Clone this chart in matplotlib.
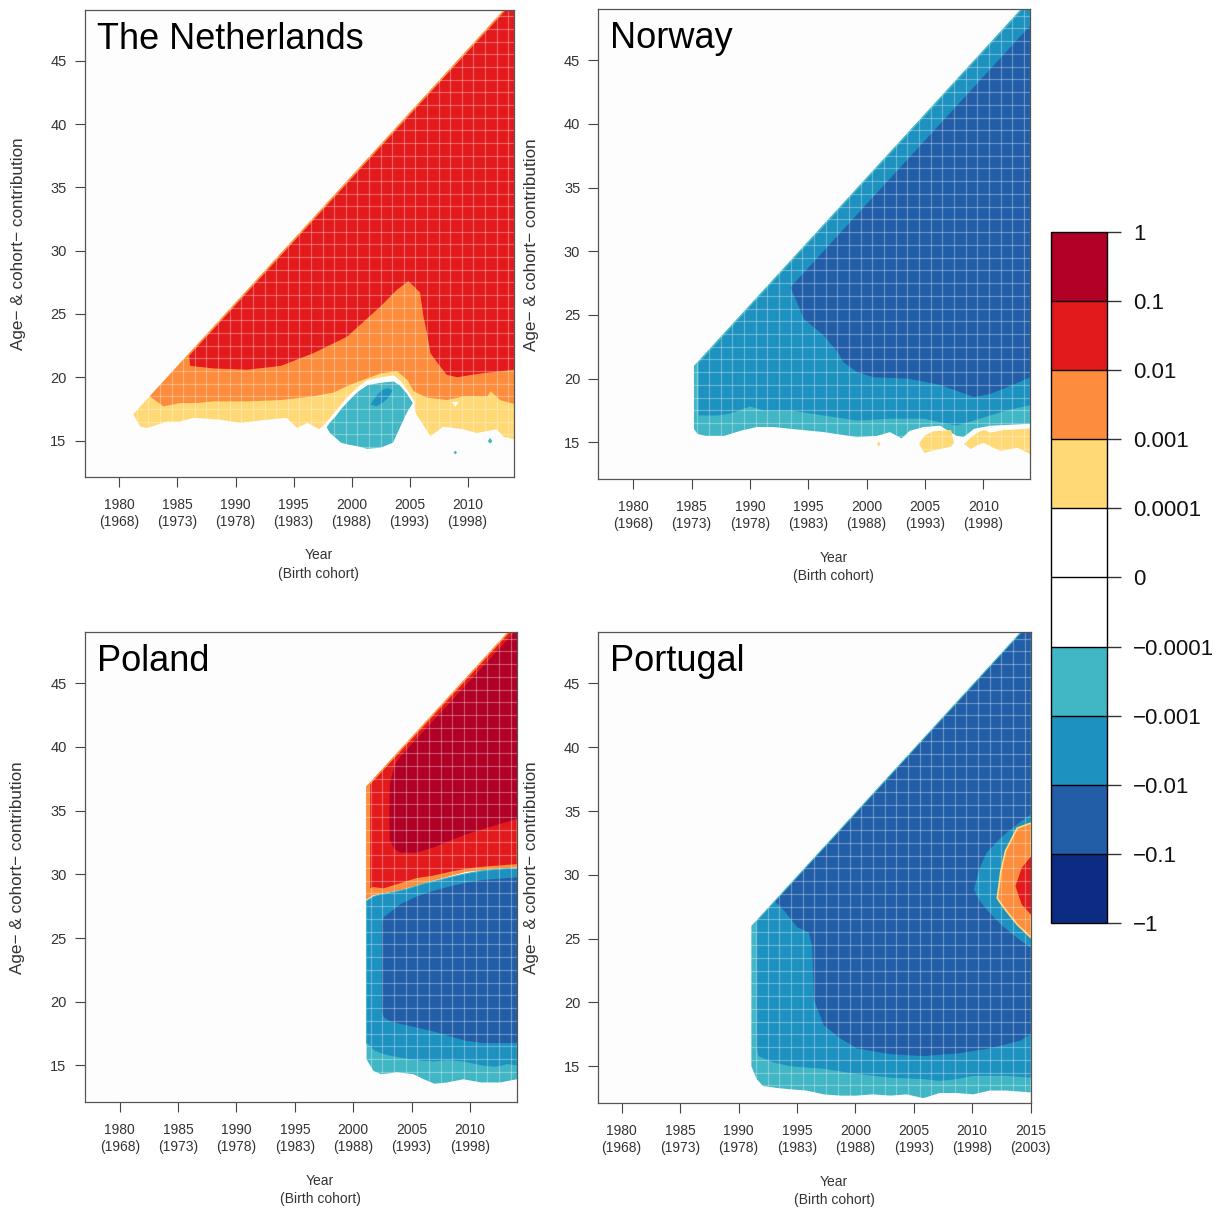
import numpy as np
import matplotlib as mpl
import matplotlib.pyplot as plt
from matplotlib.colors import ListedColormap, BoundaryNorm

plt.rcParams['font.family'] = ['Liberation Sans', 'DejaVu Sans']

# colour classes of the contribution (bottom -> top of the legend)
level_labels = ["\u22121", "\u22120.1", "\u22120.01", "\u22120.001", "\u22120.0001", "0",
                "0.0001", "0.001", "0.01", "0.1", "1"]
level_colors = ["#0C2C84", "#225EA8", "#1D91C0", "#41B6C4", "#FFFFFF",
                "#FFFFFF", "#FED976", "#FD8D3C", "#E31A1C", "#B10026"]
NEG4, NEG3, NEG2, NEG1, ZNEG, ZPOS, POS1, POS2, POS3, POS4 = level_colors

# ---------------- The Netherlands ----------------
nl_cohort = 1964.1          # upper-left edge: age = year - cohort
nl_red_cohort = 1964.3
nl_yellow_years = [1981.2, 1981.8, 1982.4, 1984.1, 1985.2, 1986.4, 1988.7, 1990.4, 1992.7,
                   1994.4, 1995.3, 1996.2, 1997.2, 1997.7, 1998.5, 1999.6, 2000.5, 2001.3,
                   2002.5, 2003.6, 2004.2, 2004.8, 2005.35, 2005.5, 2006.8, 2007.9, 2009.6,
                   2010.8, 2012.5, 2013.1, 2014.0]
nl_yellow_lo = [17.05, 16.1, 16.0, 16.5, 16.5, 16.8, 16.65, 16.4, 16.65,
                16.8, 16.0, 16.4, 15.9, 16.3, 17.2, 18.4, 19.2, 19.75,
                20.0, 20.15, 19.75, 19.0, 18.2, 17.2, 15.35, 16.1, 15.9,
                15.6, 15.9, 15.3, 15.1]
nl_orange_years = [1982.6, 1983.8, 1985.2, 1986.7, 1988.1, 1991.0, 1993.9, 1996.7, 1998.45,
                   1999.6, 2001.0, 2002.5, 2003.9, 2004.8, 2005.35, 2006.5, 2008.2, 2009.7,
                   2011.7, 2012.0, 2012.8, 2014.0]
nl_orange_lo = [18.5, 17.7, 17.97, 17.97, 18.1, 18.1, 18.2, 18.5, 18.8,
                19.3, 19.8, 20.3, 20.5, 19.8, 18.9, 18.4, 18.2, 18.5,
                18.5, 18.9, 18.2, 17.9]
nl_red_years = [1986.0, 1986.1, 1988.1, 1991.0, 1993.9, 1996.7, 1999.6, 2002.5, 2003.9,
                2004.9, 2005.9, 2006.2, 2006.5, 2006.8, 2007.6, 2008.2, 2009.1, 2011.1, 2014.0]
nl_red_lo = [21.7, 20.9, 20.7, 20.6, 20.9, 21.9, 23.2, 25.6, 26.9,
             27.6, 26.7, 24.8, 23.5, 21.9, 20.9, 20.2, 20.0, 20.3, 20.6]
nl_isl_years = [1997.7, 1998.0, 1998.5, 1999.0, 1999.6, 2000.2, 2000.5, 2001.3, 2002.5,
                2003.6, 2004.2, 2004.8, 2005.35]
nl_isl_hi = [16.1, 16.5, 17.0, 17.6, 18.2, 18.75, 19.0, 19.5, 19.7, 19.8, 19.45, 18.8, 18.0]
nl_isl_lo = [16.1, 15.6, 15.2, 14.8, 14.65, 14.55, 14.5, 14.3, 14.4, 14.8, 16.0, 17.2, 18.0]
nl_spot_years = [2001.6, 2002.1, 2002.6, 2003.1, 2003.5]
nl_spot_hi = [17.9, 18.6, 19.05, 19.2, 19.0]
nl_spot_lo = [17.9, 17.75, 18.0, 18.4, 19.0]
nl_dot1_years, nl_dot1_hi, nl_dot1_lo = [2008.75, 2008.9, 2009.05], [14.1, 14.25, 14.1], [14.1, 13.95, 14.1]
nl_dot2_years, nl_dot2_hi, nl_dot2_lo = [2011.7, 2011.9, 2012.1], [15.0, 15.25, 15.0], [15.0, 14.8, 15.0]
nl_hole_years, nl_hole_hi, nl_hole_lo = [2008.6, 2008.9, 2009.2], [18.1, 18.1, 18.1], [18.1, 17.7, 18.1]

# ---------------- Norway ----------------
no_cohort = 1964.2
no_mid_cohort = 1964.4
no_dark_cohort = 1966.3
no_teal_years = [1985.2, 1985.5, 1986.2, 1987.8, 1989.2, 1990.6, 1992.0, 1993.5, 1996.3,
                 1999.2, 2000.9, 2002.0, 2003.0, 2003.7, 2004.9, 2006.3, 2007.7, 2008.3,
                 2009.2, 2010.6, 2014.0]
no_teal_lo = [16.05, 15.65, 15.5, 15.5, 15.9, 16.2, 16.2, 16.05, 15.8,
              15.4, 15.5, 15.8, 15.3, 15.9, 16.2, 16.3, 15.5, 15.4,
              16.05, 16.3, 16.45]
no_mid_years = [1985.6, 1987.2, 1988.3, 1990.0, 1991.2, 1993.5, 1996.3, 1999.2, 2002.0,
                2004.9, 2007.7, 2009.2, 2010.6, 2012.0, 2014.0]
no_mid_lo = [17.1, 17.1, 17.25, 17.8, 17.5, 17.5, 17.1, 16.7, 16.85,
             16.85, 16.3, 16.7, 17.1, 17.5, 17.9]
no_dark_years = [1993.5, 1994.0, 1994.6, 1996.3, 1997.5, 1998.0, 1999.2, 2000.6, 2003.5,
                 2006.3, 2009.2, 2010.6, 2012.0, 2014.0]
no_dark_lo = [27.1, 26.05, 24.7, 23.4, 22.1, 21.3, 20.5, 20.1, 20.0,
              19.5, 18.55, 18.8, 19.3, 20.1]
no_ya_years = [2004.45, 2004.9, 2005.7, 2006.5, 2007.2, 2007.45]
no_ya_hi = [14.9, 15.55, 15.9, 15.95, 16.0, 15.0]
no_ya_lo = [14.9, 14.2, 14.4, 14.55, 14.7, 15.0]
no_yb_years = [2008.3, 2008.9, 2009.45, 2010.0, 2010.6, 2011.45, 2011.7, 2012.9, 2014.0]
no_yb_hi = [14.9, 15.4, 15.8, 16.0, 15.8, 15.95, 16.0, 16.05, 16.1]
no_yb_lo = [14.9, 14.5, 14.8, 15.0, 14.7, 14.35, 14.4, 14.6, 14.1]
no_yc_years, no_yc_hi, no_yc_lo = [2000.85, 2001.0, 2001.15], [14.9, 15.1, 14.9], [14.9, 14.7, 14.9]

# ---------------- Poland ----------------
pl_cohort = 1964.2
pl_red_cohort = 1964.4
pl_neg_years = [2001.1, 2001.7, 2002.3, 2002.9, 2003.7, 2004.6, 2005.1, 2006.0, 2006.9,
                2008.0, 2009.4, 2010.9, 2012.0, 2012.6, 2013.1, 2014.0]
pl_neg_top = [27.95, 28.3, 28.45, 28.55, 28.7, 28.9, 29.05, 29.3, 29.5,
              29.75, 30.05, 30.3, 30.4, 30.45, 30.5, 30.5]
pl_teal_lo = [15.5, 14.6, 14.35, 14.4, 14.5, 14.4, 14.35, 13.95, 13.6,
              13.7, 13.95, 13.7, 13.7, 13.7, 13.8, 13.95]
pl_mid_lo = [16.8, 16.2, 15.95, 15.8, 15.65, 15.5, 15.45, 15.35, 15.3,
             15.4, 15.3, 15.0, 14.9, 14.95, 15.1, 15.0]
pl_dark_years = [2002.4, 2002.6, 2003.1, 2004.0, 2005.4, 2006.85, 2008.3, 2009.7, 2011.1, 2014.0]
pl_dark_hi = [26.3, 26.7, 27.05, 27.7, 28.3, 28.75, 29.1, 29.4, 29.6, 29.8]
pl_dark_lo = [19.2, 18.8, 18.5, 18.3, 18.0, 17.7, 17.3, 16.95, 16.8, 16.8]
pl_orange_years = [2001.1, 2001.7, 2004.0, 2006.85, 2009.7, 2014.0]
pl_orange_lo = [28.0, 28.35, 28.75, 29.5, 30.2, 30.55]
pl_red_years = [2001.45, 2001.7, 2002.6, 2004.0, 2005.4, 2006.85, 2008.3, 2009.7, 2011.1,
                2012.55, 2014.0]
pl_red_lo = [28.9, 29.0, 28.9, 29.3, 29.7, 29.9, 30.2, 30.45, 30.6, 30.7, 30.8]
pl_dred_years = [2003.05, 2003.1, 2003.5, 2004.0, 2005.4, 2006.85, 2008.3, 2009.7, 2011.1,
                 2012.55, 2014.0]
pl_dred_hi = [35.0, 37.2, 38.6, 39.3, 40.7, 42.15, 43.6, 45.0, 46.4, 47.85, 49.3]
pl_dred_lo = [34.0, 32.7, 32.0, 31.75, 31.75, 32.15, 32.7, 33.2, 33.6, 34.0, 34.4]

# ---------------- Portugal ----------------
pt_cohort = 1965.1
pt_inner_cohort = 1965.25
pt_teal_years = [1991.1, 1991.55, 1992.1, 1993.3, 1994.4, 1995.8, 1997.3, 1998.7, 2000.1,
                 2001.5, 2003.0, 2004.4, 2005.8, 2007.2, 2008.7, 2010.1, 2011.5, 2012.9, 2015.0]
pt_teal_lo = [15.0, 14.0, 13.45, 13.3, 13.2, 13.1, 12.8, 12.7, 12.7,
              12.8, 12.7, 12.8, 12.5, 12.9, 12.9, 12.8, 13.1, 13.1, 12.95]
pt_mid_years = [1991.55, 1991.7, 1993.0, 1994.4, 1997.3, 2000.1, 2003.0, 2005.8, 2007.2,
                2008.7, 2010.1, 2012.9, 2015.0]
pt_mid_lo = [16.5, 15.8, 15.3, 15.0, 14.8, 14.4, 14.1, 14.0, 13.85, 14.0, 14.25, 14.25, 14.1]
pt_dark_years = [1993.15, 1994.0, 1995.0, 1996.0, 1996.3, 1996.45, 1997.3, 1998.7, 2000.1,
                 2003.0, 2005.8, 2008.7, 2011.5, 2014.1, 2015.0]
pt_dark_lo = [27.9, 27.1, 25.9, 25.5, 24.5, 20.2, 18.2, 17.2, 16.4,
              15.95, 15.8, 16.0, 16.4, 17.0, 17.5]
pt_ring_years = [2010.1, 2010.6, 2011.2, 2012.4, 2013.8, 2015.0]
pt_ring_hi = [28.9, 30.6, 31.8, 32.95, 34.0, 34.8]
pt_ring_lo = [28.9, 28.0, 27.3, 26.15, 25.1, 24.3]
pt_orange_years = [2012.1, 2012.4, 2012.8, 2013.8, 2015.0]
pt_orange_hi = [28.2, 30.3, 31.9, 33.7, 34.1]
pt_orange_lo = [28.2, 27.8, 27.3, 26.15, 25.1]
pt_red_years = [2013.65, 2014.2, 2015.0]
pt_red_hi = [29.15, 30.6, 31.5]
pt_red_lo = [29.15, 27.7, 26.9]

year_ticks = [1980, 1985, 1990, 1995, 2000, 2005, 2010, 2015]
age_ticks = [15, 20, 25, 30, 35, 40, 45]


def to_edge(ax, years, lo, cohort, color, z=2):
    yrs = np.asarray(years, float)
    ax.fill_between(yrs, lo, yrs - cohort, facecolor=color, lw=0, zorder=z)


def band(ax, years, lo, hi, color, edge=None, lw=0.0, z=3):
    ax.fill_between(years, lo, hi, facecolor=color, edgecolor=edge if edge else color,
                    lw=lw, zorder=z)


def setup(ax, title, x0, x1):
    ax.set_facecolor("#FDFDFD")
    ax.set_xlim(x0, x1)
    ax.set_ylim(12.1, 49.0)
    ticks = [t for t in year_ticks if x0 <= t <= x1]
    ax.set_xticks(ticks)
    ax.set_xticklabels([f"{t}\n({t - 12})" for t in ticks], linespacing=1.3)
    ax.set_yticks(age_ticks)
    ax.tick_params(direction="out", length=7, width=0.8, color="#444444",
                   labelsize=10, labelcolor="#333333")
    ax.tick_params(axis="x", pad=8)
    ax.tick_params(axis="y", pad=6, labelsize=10.5)
    for s in ax.spines.values():
        s.set_color("#555555")
        s.set_linewidth(0.9)
        s.set_zorder(20)
    for x in np.arange(np.floor(x0) + 0.5, x1, 1.0):
        ax.axvline(x, color="white", alpha=0.3, lw=0.9, zorder=6)
    for y in np.arange(12.5, 49.0, 1.0):
        ax.axhline(y, color="white", alpha=0.3, lw=0.9, zorder=6)
    ax.text(0.028, 0.975, title, transform=ax.transAxes, fontsize=26,
            ha="left", va="top", zorder=10)
    ax.text(0.545, -0.152, "Year\n(Birth cohort)", transform=ax.transAxes,
            fontsize=10, ha="center", va="top", linespacing=1.4, color="#333333")
    ax.text(-0.155, 0.5, "Age\u2212 & cohort\u2212 contribution", transform=ax.transAxes,
            fontsize=12.3, rotation=90, ha="center", va="center", color="#333333")


fig = plt.figure(figsize=(12.27, 12.10), dpi=100)
ax_nl = fig.add_axes([0.069, 0.6055, 0.3499, 0.3862])
ax_no = fig.add_axes([0.4876, 0.604, 0.3518, 0.3883])
ax_pl = fig.add_axes([0.069, 0.089, 0.3521, 0.3884])
ax_pt = fig.add_axes([0.4876, 0.0882, 0.3524, 0.3892])

# The Netherlands
to_edge(ax_nl, nl_yellow_years, nl_yellow_lo, nl_cohort, POS1)
to_edge(ax_nl, nl_orange_years, nl_orange_lo, nl_cohort, POS2)
to_edge(ax_nl, nl_red_years, nl_red_lo, nl_red_cohort, POS3)
band(ax_nl, nl_isl_years, nl_isl_lo, nl_isl_hi, NEG1, edge="white", lw=1.6)
band(ax_nl, nl_spot_years, nl_spot_lo, nl_spot_hi, NEG2, z=4)
band(ax_nl, nl_dot1_years, nl_dot1_lo, nl_dot1_hi, NEG1)
band(ax_nl, nl_dot2_years, nl_dot2_lo, nl_dot2_hi, NEG1)
band(ax_nl, nl_hole_years, nl_hole_lo, nl_hole_hi, "white")
setup(ax_nl, "The Netherlands", 1977.0, 2014.0)

# Norway
to_edge(ax_no, no_teal_years, no_teal_lo, no_cohort, NEG1)
to_edge(ax_no, no_mid_years, no_mid_lo, no_mid_cohort, NEG2)
to_edge(ax_no, no_dark_years, no_dark_lo, no_dark_cohort, NEG3)
band(ax_no, no_ya_years, no_ya_lo, no_ya_hi, POS1)
band(ax_no, no_yb_years, no_yb_lo, no_yb_hi, POS1)
band(ax_no, no_yc_years, no_yc_lo, no_yc_hi, POS1)
setup(ax_no, "Norway", 1977.0, 2014.0)

# Poland
to_edge(ax_pl, pl_orange_years, pl_orange_lo, pl_cohort, POS2)
to_edge(ax_pl, pl_red_years, pl_red_lo, pl_red_cohort, POS3)
band(ax_pl, pl_dred_years, pl_dred_lo, pl_dred_hi, POS4)
band(ax_pl, pl_neg_years, pl_teal_lo, pl_neg_top, NEG1)
band(ax_pl, pl_neg_years, pl_mid_lo, pl_neg_top, NEG2, edge=NEG1, lw=0.8)
band(ax_pl, pl_dark_years, pl_dark_lo, pl_dark_hi, NEG3, z=4)
setup(ax_pl, "Poland", 1977.0, 2014.0)

# Portugal
to_edge(ax_pt, pt_teal_years, pt_teal_lo, pt_cohort, NEG1)
to_edge(ax_pt, pt_mid_years, pt_mid_lo, pt_inner_cohort, NEG2)
to_edge(ax_pt, pt_dark_years, pt_dark_lo, pt_inner_cohort, NEG3)
band(ax_pt, pt_ring_years, pt_ring_lo, pt_ring_hi, NEG2)
band(ax_pt, pt_orange_years, pt_orange_lo, pt_orange_hi, POS2, edge=POS1, lw=1.2, z=4)
band(ax_pt, pt_red_years, pt_red_lo, pt_red_hi, POS3, z=5)
setup(ax_pt, "Portugal", 1978.0, 2015.0)

# colour key
cax = fig.add_axes([0.8566, 0.2372, 0.0456, 0.5711])
cmap = ListedColormap(level_colors)
norm = BoundaryNorm(np.arange(11), cmap.N)
cb = mpl.colorbar.ColorbarBase(cax, cmap=cmap, norm=norm, boundaries=np.arange(11),
                               ticks=np.arange(11), drawedges=True)
cb.set_ticklabels(level_labels)
cb.outline.set_linewidth(1.0)
cb.outline.set_edgecolor("black")
cb.dividers.set_color("black")
cb.dividers.set_linewidth(1.0)
cax.tick_params(direction="out", length=10, width=1.0, color="#333333",
                pad=9, labelsize=16, labelcolor="#111111")

fig.savefig("out.png", dpi=100)
